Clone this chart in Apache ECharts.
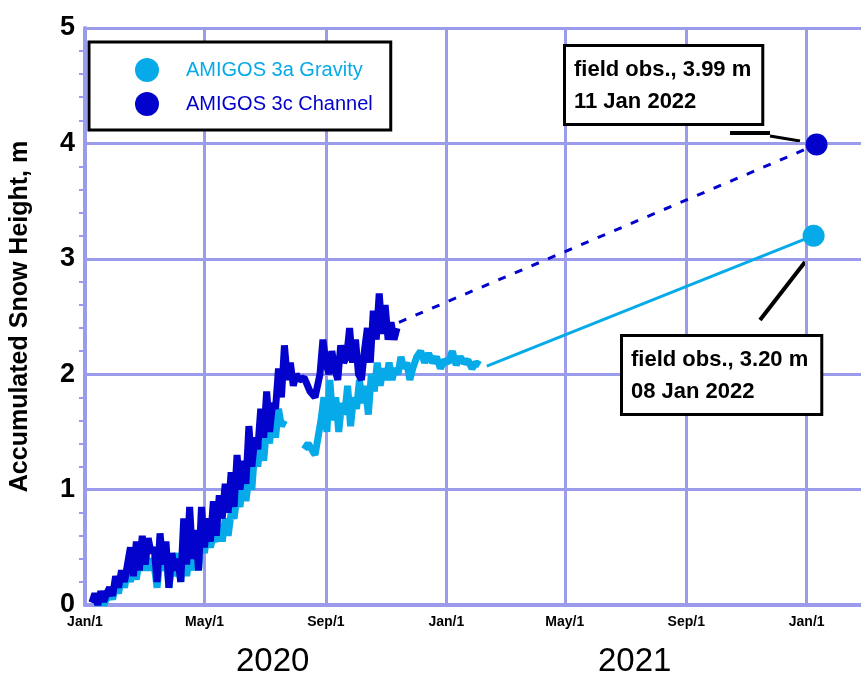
<!DOCTYPE html>
<html><head><meta charset="utf-8">
<script src="https://cdn.jsdelivr.net/npm/echarts@6/dist/echarts.min.js"></script>
<style>html,body{margin:0;padding:0;background:#fff}#c{width:861px;height:685px}</style>
</head><body><div id="c"></div>
<script>
// days since 2020-01-01
const tickDays = [0, 121, 244, 366, 486, 609, 731];
const tickLabels = ['Jan/1','May/1','Sep/1','Jan/1','May/1','Sep/1','Jan/1'];
const yearLabels = ['2020','2021'];
const seriesNames = ['AMIGOS 3a Gravity','AMIGOS 3c Channel'];
const channel3c = [[7,0.02],[10,0.1],[13,0.0],[16,0.12],[19,0.03],[22,0.1],[25,0.15],[28,0.08],[31,0.25],[34,0.15],[37,0.3],[40,0.2],[43,0.35],[46,0.5],[49,0.25],[52,0.55],[55,0.3],[58,0.6],[61,0.35],[64,0.58],[67,0.45],[70,0.5],[73,0.2],[76,0.62],[79,0.35],[82,0.55],[85,0.15],[88,0.45],[91,0.3],[94,0.4],[97,0.2],[100,0.75],[103,0.35],[106,0.85],[109,0.4],[112,0.65],[115,0.3],[118,0.85],[121,0.5],[124,0.75],[127,0.55],[130,0.9],[133,0.6],[136,0.95],[139,0.75],[142,1.05],[145,0.8],[148,1.15],[151,0.85],[154,1.3],[157,1.0],[160,1.25],[163,1.05],[166,1.55],[169,1.2],[172,1.45],[175,1.35],[178,1.7],[181,1.45],[184,1.85],[187,1.5],[190,1.75],[193,1.7],[196,2.05],[199,1.8],[202,2.25],[205,1.95],[208,2.1],[211,1.9],[214,2.0],[217,1.95],[222,1.97],[228,1.85],[233,1.8],[238,2.0],[241,2.3],[244,2.1],[247,2.0],[250,2.2],[253,2.05],[256,1.95],[259,2.25],[262,2.1],[265,2.15],[268,2.4],[271,2.1],[274,2.3],[277,2.0],[280,1.95],[283,2.2],[286,2.4],[289,2.1],[292,2.55],[295,2.3],[298,2.7],[301,2.35],[304,2.6],[307,2.3],[310,2.45],[313,2.3],[316,2.4]];
const gravity3a = [[7,0.02],[10,0.05],[13,0.0],[16,0.08],[19,0.0],[22,0.06],[25,0.1],[28,0.05],[31,0.18],[34,0.1],[37,0.25],[40,0.15],[43,0.3],[46,0.2],[49,0.35],[52,0.22],[55,0.4],[58,0.3],[61,0.45],[64,0.3],[67,0.4],[70,0.35],[73,0.15],[76,0.4],[79,0.3],[82,0.45],[85,0.15],[88,0.35],[91,0.25],[94,0.45],[97,0.2],[100,0.5],[103,0.25],[106,0.45],[109,0.3],[112,0.55],[115,0.3],[118,0.6],[121,0.45],[124,0.65],[127,0.5],[130,0.6],[133,0.55],[136,0.7],[139,0.55],[142,0.75],[145,0.6],[148,0.8],[151,0.75],[154,0.95],[157,0.85],[160,1.1],[163,0.9],[166,1.1],[169,1.0],[172,1.35],[175,1.2],[178,1.4],[181,1.25],[184,1.55],[187,1.4],[190,1.7],[193,1.45],[196,1.7],[199,1.55],[202,1.6],[212,null],[222,1.35],[226,1.4],[233,1.3],[236,1.45],[239,1.6],[242,1.8],[245,1.5],[248,1.95],[251,1.6],[254,1.8],[257,1.5],[260,1.75],[263,1.65],[266,1.9],[269,1.55],[272,1.8],[275,1.7],[278,1.95],[281,1.75],[284,1.9],[287,1.65],[290,2.0],[293,1.85],[296,2.1],[299,1.9],[302,2.05],[305,1.95],[308,2.1],[311,1.95],[314,2.05],[317,2.0],[320,2.15],[323,2.05],[326,2.1],[329,1.95],[332,2.05],[336,2.15],[340,2.2],[344,2.1],[348,2.18],[352,2.1],[356,2.15],[360,2.05],[364,2.12],[368,2.1],[372,2.2],[376,2.08],[380,2.15],[384,2.1],[388,2.12],[392,2.05],[396,2.1],[400,2.08]];
const channelTrend = [[318,2.45],[741,3.99]];
const gravityTrend = [[407,2.07],[738,3.20]];
const fieldObs3c = [[741,3.99]];
const fieldObs3a = [[738,3.20]];
const obsText = ['field obs., 3.99 m\n11 Jan 2022','field obs., 3.20 m\n08 Jan 2022'];

const LIGHT='#06aae8', DARK='#0202cc', GRID='#9b9beb';
const chart = echarts.init(document.getElementById('c'));
chart.setOption({
  animation:false,
  grid:{left:84,right:0,top:28,bottom:80},
  legend:{
    left:89, top:42, width:344, orient:'vertical', itemGap:10,
    padding:[16,18,14,46], borderColor:'#000', borderWidth:3, backgroundColor:'#fff',
    icon:'circle', itemWidth:24, itemHeight:24,
    data:[{name:seriesNames[0],textStyle:{color:LIGHT}},{name:seriesNames[1],textStyle:{color:DARK}}],
    textStyle:{fontSize:20,fontFamily:'Liberation Sans',padding:[0,0,0,22]}
  },
  xAxis:{type:'value',min:0,max:786,axisLabel:{show:false},axisTick:{show:false},splitLine:{show:false},
    axisLine:{lineStyle:{color:GRID,width:4}}},
  yAxis:{type:'value',min:0,max:5,interval:1,
    name:'Accumulated Snow Height, m',nameLocation:'middle',nameGap:52,
    nameTextStyle:{fontSize:25,fontWeight:'bold',color:'#000',fontFamily:'Liberation Sans'},
    axisLabel:{fontSize:27,fontWeight:'bold',color:'#000',margin:10,fontFamily:'Liberation Sans'},
    axisLine:{show:true,lineStyle:{color:GRID,width:4}},
    axisTick:{show:false},
    minorTick:{show:true,splitNumber:5,length:6,lineStyle:{color:GRID,width:2}},
    splitLine:{lineStyle:{color:GRID,width:3}}},
  series:[
    {name:seriesNames[0],type:'line',data:gravity3a,showSymbol:false,connectNulls:false,
     lineStyle:{color:LIGHT,width:7},itemStyle:{color:LIGHT},z:3,
     markLine:{silent:true,symbol:'none',z:1,
       lineStyle:{color:GRID,width:3,type:'solid'},
       label:{position:'start',distance:10,fontSize:14,fontWeight:'bold',color:'#000',
         fontFamily:'Liberation Sans',formatter:p=>tickLabels[tickDays.indexOf(p.value)]},
       data:tickDays.map(d=>({xAxis:d}))}},
    {name:seriesNames[1],type:'line',data:channel3c,showSymbol:false,
     lineStyle:{color:DARK,width:7},itemStyle:{color:DARK},z:4},
    {type:'line',data:channelTrend,showSymbol:false,lineStyle:{color:DARK,width:3,type:[8,10]},z:4},
    {type:'line',data:gravityTrend,showSymbol:false,lineStyle:{color:LIGHT,width:3},z:3},
    {type:'scatter',data:fieldObs3c,symbolSize:22,itemStyle:{color:DARK,opacity:1},z:5},
    {type:'scatter',data:fieldObs3a,symbolSize:22,itemStyle:{color:LIGHT,opacity:1},z:5}
  ],
  graphic:[
    {type:'text',left:236,top:645,style:{text:yearLabels[0],fontSize:33,fill:'#000',fontFamily:'Liberation Sans'}},
    {type:'text',left:598,top:645,style:{text:yearLabels[1],fontSize:33,fill:'#000',fontFamily:'Liberation Sans'}},
    {type:'line',shape:{x1:730,y1:133,x2:770,y2:133},style:{stroke:'#000',lineWidth:4}},
    {type:'line',shape:{x1:770,y1:136,x2:800,y2:141},style:{stroke:'#000',lineWidth:3}},
    {type:'line',shape:{x1:760,y1:320,x2:805,y2:262},style:{stroke:'#000',lineWidth:4}},
    {type:'text',left:563,top:44,z:10,style:{text:obsText[0],fontSize:22,lineHeight:32,fill:'#000',fontWeight:'bold',
      backgroundColor:'#fff',borderColor:'#000',borderWidth:3,padding:[7,10,5,8],fontFamily:'Liberation Sans'}},
    {type:'text',left:620,top:334,z:10,style:{text:obsText[1],fontSize:22,lineHeight:32,fill:'#000',fontWeight:'bold',
      backgroundColor:'#fff',borderColor:'#000',borderWidth:3,padding:[7,12,5,8],fontFamily:'Liberation Sans'}}
  ]
});
</script></body></html>
